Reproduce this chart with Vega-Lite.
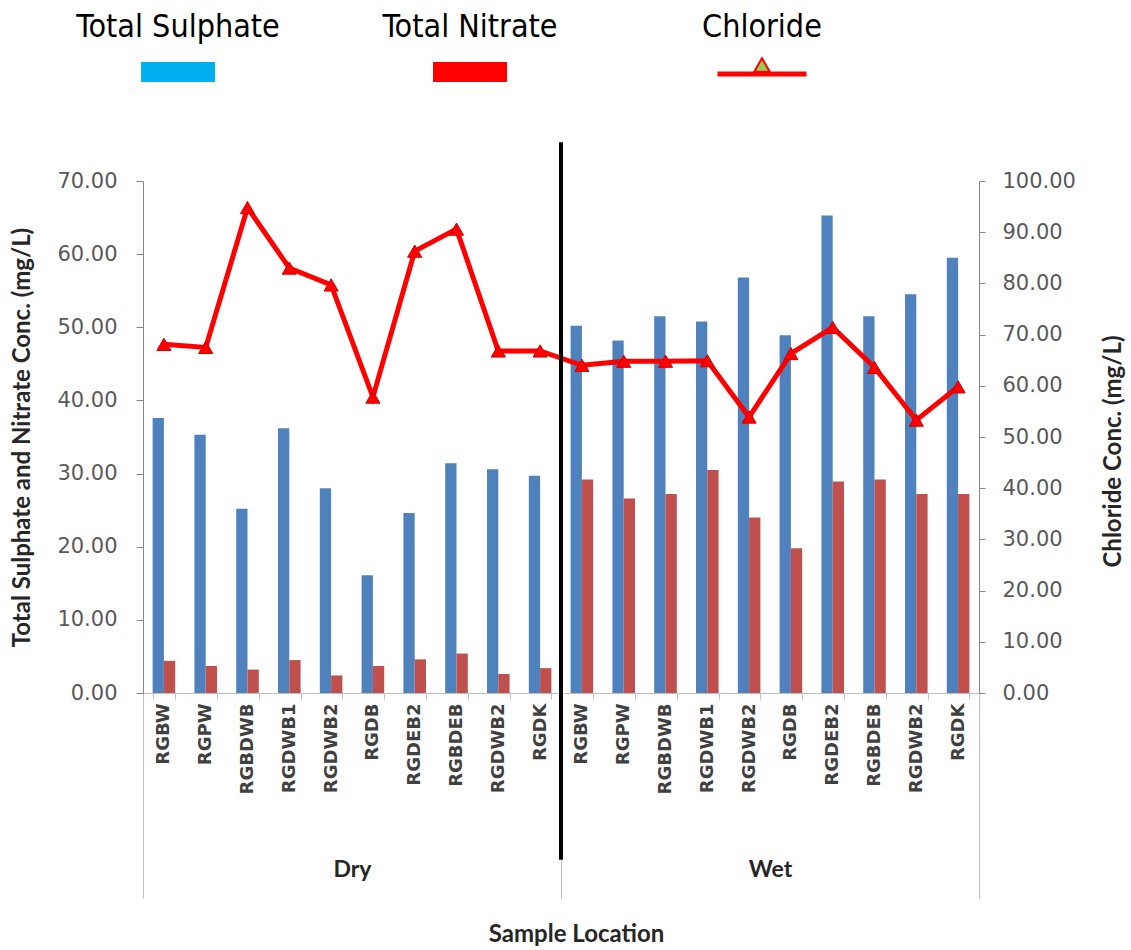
{
  "$schema": "https://vega.github.io/schema/vega-lite/v6.json",
  "background": "white",
  "padding": {"left": 10, "top": 0, "right": 0, "bottom": 0},
  "spacing": 40,
  "config": {"view": {"stroke": null}, "axis": {"grid": false}},
  "datasets": {
    "samples": [
      {"season": "Dry", "site": "D01 RGBW", "sulphate": 37.6, "nitrate": 4.4, "chloride": 68.1},
      {"season": "Dry", "site": "D02 RGPW", "sulphate": 35.3, "nitrate": 3.7, "chloride": 67.5},
      {"season": "Dry", "site": "D03 RGBDWB", "sulphate": 25.2, "nitrate": 3.2, "chloride": 94.8},
      {"season": "Dry", "site": "D04 RGDWB1", "sulphate": 36.2, "nitrate": 4.5, "chloride": 83.0},
      {"season": "Dry", "site": "D05 RGDWB2", "sulphate": 28.0, "nitrate": 2.4, "chloride": 79.7},
      {"season": "Dry", "site": "D06 RGDB", "sulphate": 16.1, "nitrate": 3.7, "chloride": 57.8},
      {"season": "Dry", "site": "D07 RGDEB2", "sulphate": 24.6, "nitrate": 4.6, "chloride": 86.3},
      {"season": "Dry", "site": "D08 RGBDEB", "sulphate": 31.4, "nitrate": 5.4, "chloride": 90.6},
      {"season": "Dry", "site": "D09 RGDWB2", "sulphate": 30.6, "nitrate": 2.6, "chloride": 66.8},
      {"season": "Dry", "site": "D10 RGDK", "sulphate": 29.7, "nitrate": 3.4, "chloride": 66.8},
      {"season": "Wet", "site": "W01 RGBW", "sulphate": 50.2, "nitrate": 29.2, "chloride": 64.0},
      {"season": "Wet", "site": "W02 RGPW", "sulphate": 48.2, "nitrate": 26.6, "chloride": 64.8},
      {"season": "Wet", "site": "W03 RGBDWB", "sulphate": 51.5, "nitrate": 27.2, "chloride": 64.8},
      {"season": "Wet", "site": "W04 RGDWB1", "sulphate": 50.8, "nitrate": 30.5, "chloride": 64.9},
      {"season": "Wet", "site": "W05 RGDWB2", "sulphate": 56.8, "nitrate": 24.0, "chloride": 53.9},
      {"season": "Wet", "site": "W06 RGDB", "sulphate": 48.9, "nitrate": 19.8, "chloride": 66.3},
      {"season": "Wet", "site": "W07 RGDEB2", "sulphate": 65.3, "nitrate": 28.9, "chloride": 71.4},
      {"season": "Wet", "site": "W08 RGBDEB", "sulphate": 51.5, "nitrate": 29.2, "chloride": 63.6},
      {"season": "Wet", "site": "W09 RGDWB2", "sulphate": 54.5, "nitrate": 27.2, "chloride": 53.3},
      {"season": "Wet", "site": "W10 RGDK", "sulphate": 59.5, "nitrate": 27.2, "chloride": 59.8}
    ],
    "seasons": [{"season": "Dry"}, {"season": "Wet"}],
    "legend": [{"series": "Total Sulphate"}, {"series": "Total Nitrate"}, {"series": "Chloride"}]
  },
  "vconcat": [
    {
      "width": 654,
      "height": 100,
      "data": {"name": "legend"},
      "encoding": {
        "x": {"field": "series", "type": "nominal", "scale": {"type": "point", "padding": 0.12, "domain": ["Total Sulphate", "Total Nitrate", "Chloride"]}, "axis": null}
      },
      "layer": [
        {
          "mark": {"type": "text", "fontSize": 32, "font": "Liberation Sans Narrow, DejaVu Sans Condensed, Liberation Sans, sans-serif", "baseline": "middle", "align": "center", "yOffset": -23, "color": "black"},
          "encoding": {"text": {"field": "series"}}
        },
        {
          "transform": [{"filter": "datum.series == 'Total Sulphate'"}],
          "mark": {"type": "point", "filled": true, "opacity": 1, "shape": "M-37,-10H37V10H-37Z", "size": 4, "yOffset": 22, "strokeWidth": 0, "color": "#00B0F0"}
        },
        {
          "transform": [{"filter": "datum.series == 'Total Nitrate'"}],
          "mark": {"type": "point", "filled": true, "opacity": 1, "shape": "M-37,-10H37V10H-37Z", "size": 4, "yOffset": 22, "strokeWidth": 0, "color": "#FF0000"}
        },
        {
          "transform": [{"filter": "datum.series == 'Chloride'"}],
          "mark": {"type": "point", "filled": true, "opacity": 1, "shape": "M-44.5,-2.5H44.5V2.5H-44.5Z", "size": 4, "yOffset": 24, "color": "#FF0000", "strokeWidth": 0}
        },
        {
          "transform": [{"filter": "datum.series == 'Chloride'"}],
          "mark": {"type": "point", "filled": true, "opacity": 1, "shape": "triangle-up", "size": 240, "yOffset": 15, "fill": "#92D050", "stroke": "#FF0000", "strokeWidth": 2}
        }
      ]
    },
    {
      "width": 836,
      "height": 512,
      "layer": [
        {
          "data": {"name": "samples"},
          "layer": [
            {
              "transform": [{"fold": ["sulphate", "nitrate"], "as": ["series", "value"]}],
              "mark": {"type": "bar"},
              "encoding": {
                "x": {
                  "field": "site", "type": "nominal", "sort": null,
                  "scale": {"type": "band", "paddingInner": 0.46, "paddingOuter": 0.23},
                  "axis": {"orient": "bottom", "title": null, "labelExpr": "slice(datum.label, 4)", "labelAngle": -90, "labelAlign": "right", "labelBaseline": "middle", "labelFont": "DejaVu Sans", "labelFontWeight": "bold", "labelFontSize": 18, "labelColor": "#404040", "tickBand": "extent", "tickSize": 6, "tickColor": "#BFBFBF", "domainColor": "#BFBFBF", "labelPadding": 4}
                },
                "xOffset": {"field": "series", "type": "nominal", "sort": ["sulphate", "nitrate"], "scale": {"paddingInner": 0, "paddingOuter": 0}},
                "y": {
                  "field": "value", "type": "quantitative",
                  "scale": {"domain": [0, 70], "nice": false},
                  "axis": {"orient": "left", "values": [0, 10, 20, 30, 40, 50, 60, 70], "format": ".2f", "title": "Total Sulphate and Nitrate Conc. (mg/L)", "labelFont": "DejaVu Sans", "labelFontSize": 21, "labelColor": "#595959", "tickSize": 7, "tickColor": "#868686", "domainColor": "#868686", "labelPadding": 19, "titleFont": "Lato", "titleFontSize": 24, "titleFontWeight": "bold", "titleColor": "#262626", "titlePadding": 22}
                },
                "color": {"field": "series", "type": "nominal", "scale": {"domain": ["sulphate", "nitrate"], "range": ["#4F81BD", "#C0504D"]}, "legend": null}
              }
            },
            {
              "encoding": {
                "x": {"field": "site", "type": "nominal", "sort": null},
                "y": {
                  "field": "chloride", "type": "quantitative",
                  "scale": {"domain": [0, 100], "nice": false},
                  "axis": {"orient": "right", "values": [0, 10, 20, 30, 40, 50, 60, 70, 80, 90, 100], "format": ".2f", "title": "Chloride Conc. (mg/L)", "titleAngle": 270, "titleY": 270, "labelFont": "DejaVu Sans", "labelFontSize": 21, "labelColor": "#595959", "tickSize": 6, "tickColor": "#868686", "domainColor": "#868686", "labelPadding": 17, "titleFont": "Lato", "titleFontSize": 24, "titleFontWeight": "bold", "titleColor": "#262626", "titlePadding": 50}
                }
              },
              "layer": [
                {"mark": {"type": "line", "color": "#FF0000", "strokeWidth": 5}},
                {"mark": {"type": "point", "shape": "triangle-up", "filled": true, "size": 200, "fill": "#FF0000", "stroke": "#D00000", "strokeWidth": 1, "opacity": 1}}
              ]
            }
          ],
          "resolve": {"scale": {"y": "independent"}}
        },
        {
          "data": {"name": "seasons"},
          "layer": [
            {
              "mark": {"type": "point", "opacity": 0},
              "encoding": {
                "x": {
                  "field": "season", "type": "nominal",
                  "scale": {"type": "band", "paddingInner": 0, "paddingOuter": 0},
                  "axis": {"orient": "bottom", "title": "Sample Location", "titleX": 433, "tickBand": "extent", "tickSize": 205, "tickColor": "#BFBFBF", "tickWidth": 1, "domain": false, "labelAngle": 0, "labelFont": "Lato", "labelFontWeight": "bold", "labelFontSize": 23, "labelColor": "#262626", "labelBaseline": "top", "labelPadding": -40, "titleFont": "Lato", "titleFontSize": 24, "titleFontWeight": "bold", "titleColor": "#262626", "titlePadding": 29}
                }
              }
            },
            {
              "transform": [{"filter": "datum.season == 'Wet'"}],
              "mark": {"type": "rule", "color": "black", "strokeWidth": 4},
              "encoding": {
                "x": {"field": "season", "type": "nominal", "bandPosition": 0},
                "y": {"datum": 75.3, "type": "quantitative", "scale": {"domain": [0, 70], "nice": false}, "axis": null},
                "y2": {"datum": -22.8}
              }
            }
          ]
        }
      ],
      "resolve": {"scale": {"x": "independent", "y": "independent"}}
    }
  ]
}
